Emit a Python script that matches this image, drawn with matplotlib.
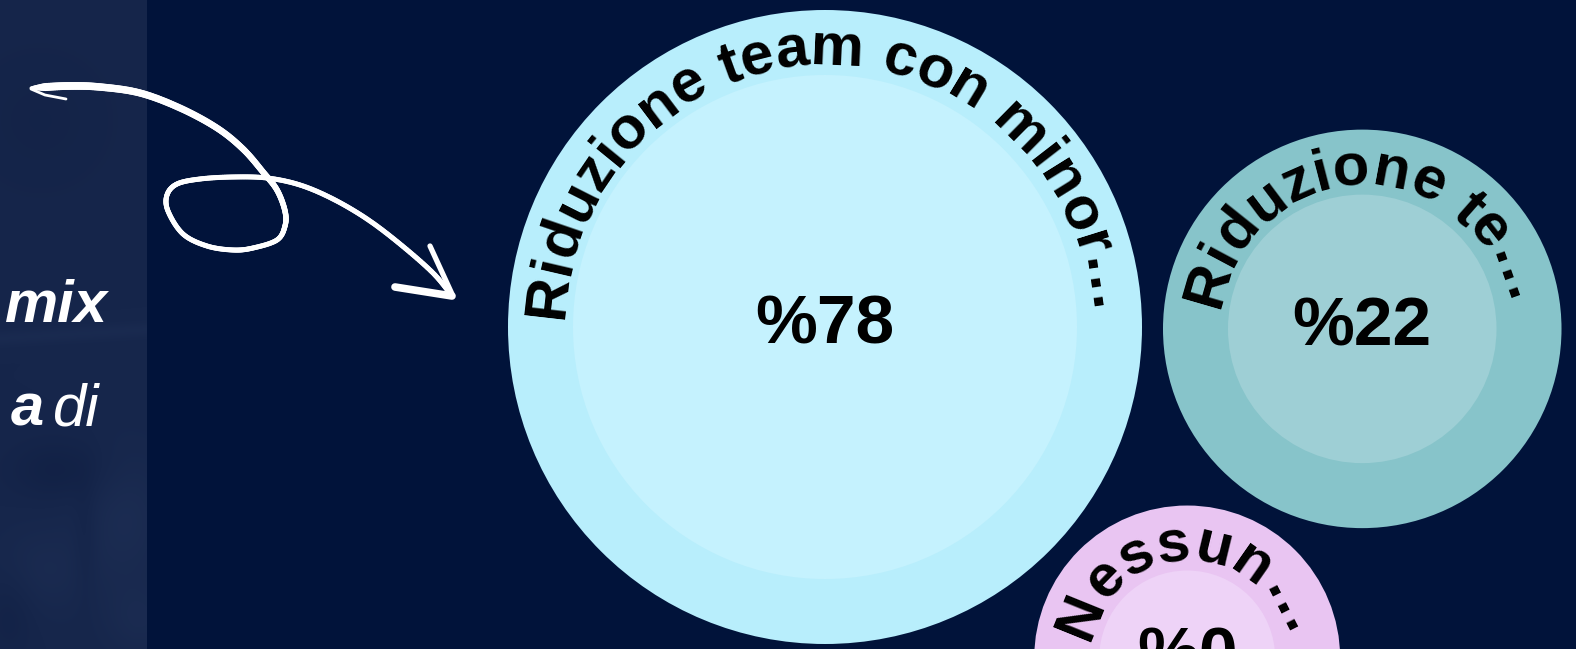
import numpy as np
import matplotlib
matplotlib.use("Agg")
import matplotlib.pyplot as plt
from matplotlib.patches import Circle
from matplotlib.collections import LineCollection
from matplotlib.font_manager import FontProperties, findfont
from matplotlib.ft2font import FT2Font

# ---------------- data ----------------
labels = ["Riduzione team con minor\u2026", "Riduzione te\u2026", "Nessun\u2026"]
values = [78, 22, 0]
value_labels = ["%78", "%22", "%0"]
outer_colors = ["#B8EEFC", "#87C4CA", "#E9C5F2"]
inner_colors = ["#C5F2FE", "#9ECFD5", "#EED3F7"]

# ---------------- style ----------------
W, H = 1576, 649
BG = "#01133A"
R_MIN, R_MAX = 153, 317     # bubble radius range (px)
RING = 65                   # width of outer ring
GAP = 21                    # gap between bubbles
TEXT_INSET = 55             # baseline radius = r - inset
ARC_PT = 43                 # curved label size (pt)
VAL_PT = 50                 # value label size (pt)

fp_bold = FontProperties(family="Liberation Sans", weight="bold")
font_file = findfont(fp_bold)

fig = plt.figure(figsize=(W / 100, H / 100), dpi=100)
fig.patch.set_facecolor(BG)
ax = fig.add_axes([0, 0, 1, 1])
ax.set_xlim(0, W)
ax.set_ylim(H, 0)
ax.axis("off")
ax.set_facecolor(BG)

# ---------------- left panel (background decoration) ----------------
PW = 147
yy, xx = np.mgrid[0:H, 0:PW].astype(float)
base = np.array([0x16, 0x26, 0x4B]) / 255.0
img = np.ones((H, PW, 3)) * base


def blob(cx, cy, sx, sy, amp):
    return amp * np.exp(-(((xx - cx) / sx) ** 2 + ((yy - cy) / sy) ** 2))


shade = (blob(125, 520, 45, 70, 0.025) + blob(40, 570, 50, 45, 0.018)
         + blob(140, 620, 35, 35, 0.018) - blob(60, 470, 50, 30, 0.02)
         - blob(85, 540, 12, 60, 0.015) - blob(10, 610, 25, 45, 0.015)
         - blob(40, 120, 80, 80, 0.01))
arc_y = 338 - 0.06 * xx
shade += 0.018 * np.exp(-((yy - arc_y) / 8.0) ** 2)
img = np.clip(img + shade[..., None] * np.array([0.8, 0.9, 1.0]), 0, 1)
ax.imshow(img, extent=(0, PW, H, 0), aspect="auto", zorder=0.5, interpolation="bilinear")

ax.text(108, 322, "mix", color="white", fontsize=43, family="Liberation Sans",
        weight="bold", style="italic", ha="right", va="baseline", zorder=3)
ax.text(44, 425, "a", color="white", fontsize=43, family="Liberation Sans",
        weight="bold", style="italic", ha="right", va="baseline", zorder=3)
ax.text(99, 425, "di", color="white", fontsize=43, family="Liberation Sans",
        style="italic", ha="right", va="baseline", zorder=3)

# ---------------- hand drawn arrow (decoration) ----------------
arrow_pts = np.array([
    (31, 88), (67, 86), (100, 87), (140, 93), (180, 108), (217, 128), (243, 149),
    (263, 172), (277, 190), (285, 211), (285, 226), (277, 240), (253, 248),
    (233, 250), (207, 246), (183, 234), (168, 211), (167, 195), (177, 184),
    (200, 179), (233, 177), (267, 178), (300, 185), (333, 199), (367, 219),
    (400, 244), (433, 273), (452, 296)], dtype=float)


def catmull(p, n=20):
    p = np.vstack([p[0], p, p[-1]])
    out = []
    for i in range(1, len(p) - 2):
        p0, p1, p2, p3 = p[i - 1], p[i], p[i + 1], p[i + 2]
        t = np.linspace(0, 1, n, endpoint=False)[:, None]
        out.append(0.5 * ((2 * p1) + (-p0 + p2) * t + (2 * p0 - 5 * p1 + 4 * p2 - p3) * t ** 2
                          + (-p0 + 3 * p1 - 3 * p2 + p3) * t ** 3))
    out.append(p[-2][None, :])
    return np.vstack(out)


curve = catmull(arrow_pts)
segs = np.stack([curve[:-1], curve[1:]], axis=1)
frac = np.linspace(0, 1, len(segs))
px = 8.0 - 3.0 * np.clip(frac / 0.4, 0, 1)
px[:10] = np.linspace(3, 8, 10)
ax.add_collection(LineCollection(segs, colors="white", linewidths=0.72 * px, capstyle="round",
                                 joinstyle="round", zorder=4))
ax.plot([31, 45, 66], [89, 95, 99], color="white", lw=2.0, solid_capstyle="round", zorder=4)
ax.plot([430, 452], [246, 294], color="white", lw=3.8, solid_capstyle="round", zorder=4)
ax.plot([395, 452], [287, 296], color="white", lw=5.5, solid_capstyle="round", zorder=4)

# ---------------- bubble layout ----------------
vmax = max(values)
radii = [R_MIN + (R_MAX - R_MIN) * v / vmax for v in values]
c0 = np.array([825.0, 327.0])
d01 = radii[0] + radii[1] + GAP
ang = np.deg2rad(0.2)
u = np.array([np.cos(ang), np.sin(ang)])
c1 = c0 + d01 * u
d02 = radii[0] + radii[2] + GAP
d12 = radii[1] + radii[2] + GAP
a = (d02 ** 2 - d12 ** 2 + d01 ** 2) / (2 * d01)
h = np.sqrt(d02 ** 2 - a ** 2)
nrm = np.array([-u[1], u[0]])
c2 = c0 + a * u + h * nrm
centers = [c0, c1, c2]


def advances(s, size_pt):
    f = FT2Font(font_file)
    f.set_size(size_pt, 100)
    return [f.load_char(ord(ch)).linearHoriAdvance / 65536.0 for ch in s]


def curved_text(s, cx, cy, R, size_pt):
    adv = advances(s, size_pt)
    span = sum(adv) / R
    theta0 = np.pi / 2 + span / 2
    cum = 0.0
    for ch, w in zip(s, adv):
        t = theta0 - (cum + w / 2) / R
        cum += w
        if ch == " ":
            continue
        ax.text(cx + R * np.cos(t), cy - R * np.sin(t), ch, rotation=np.degrees(t) - 90,
                rotation_mode="anchor", ha="center", va="baseline", fontproperties=fp_bold,
                fontsize=size_pt, color="#000000", zorder=6)


for lab, vlab, r, c, oc, ic in zip(labels, value_labels, radii, centers, outer_colors, inner_colors):
    ax.add_patch(Circle(c, r, color=oc, zorder=2, lw=0))
    ax.add_patch(Circle(c, r - RING, color=ic, zorder=3, lw=0))
    curved_text(lab, c[0], c[1], r - TEXT_INSET, ARC_PT)
    ax.text(c[0], c[1] + 17, vlab, ha="center", va="baseline", fontproperties=fp_bold,
            fontsize=VAL_PT, color="#000000", zorder=6)

fig.savefig("out.png", dpi=100, facecolor=BG)
